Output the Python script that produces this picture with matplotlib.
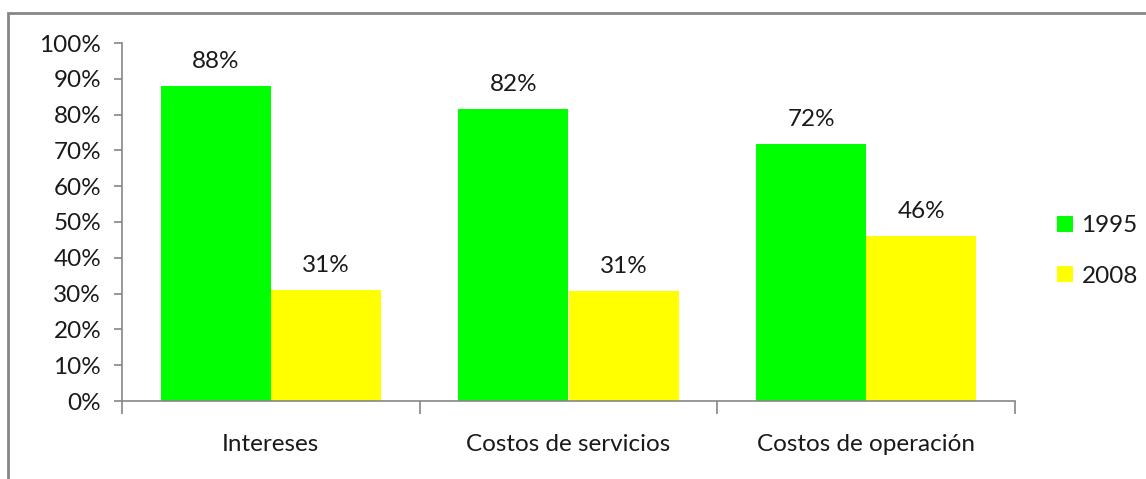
import matplotlib
matplotlib.use("Agg")
import matplotlib.pyplot as plt
from matplotlib.patches import Rectangle
from matplotlib.ticker import FixedLocator
import numpy as np

categories = ["Intereses", "Costos de servicios", "Costos de operación"]
series_names = ["1995", "2008"]
values_1995 = [88, 81.6, 71.8]
values_2008 = [31, 30.7, 46]
labels_1995 = ["88%", "82%", "72%"]
labels_2008 = ["31%", "31%", "46%"]
yticks = [0, 10, 20, 30, 40, 50, 60, 70, 80, 90, 100]

plt.rcParams['font.family'] = ['Lato', 'DejaVu Sans']
FS = 17.5
W, H = 1146, 479
fig = plt.figure(figsize=(W/100, H/100), dpi=100)

# chart border
fig.patches.append(Rectangle((8/W, -0.1), 1.2, 1 - 13/H + 0.1, transform=fig.transFigure,
                             fill=False, edgecolor='#868686', linewidth=2.0))

ax = fig.add_axes([122/W, 1 - 401/H, (1015-122)/W, (401-43)/H])
x = np.arange(len(categories))
bw = 0.37
axis_col = '#868686'
green = '#00FF00'
yellow = '#FFFF00'
txt_col = '#1a1a1a'
b1 = ax.bar(x - bw/2, values_1995, bw, color=green, label=series_names[0])
b2 = ax.bar(x + bw/2, values_2008, bw, color=yellow, label=series_names[1])
for bars, labs in ((b1, labels_1995), (b2, labels_2008)):
    for rect, lab in zip(bars, labs):
        ax.annotate(lab, (rect.get_x() + rect.get_width()/2, rect.get_height()),
                    xytext=(0, 10), textcoords='offset points', ha='center', va='bottom',
                    fontsize=FS, color=txt_col)

ax.set_xlim(-0.5, len(categories) - 0.5)
ax.set_ylim(0, 100)
ax.set_yticks(yticks)
ax.set_yticklabels([f"{v}%" for v in yticks], fontsize=FS, color=txt_col)
ax.tick_params(axis='y', length=6, color=axis_col, width=1.2, pad=9)

ax.xaxis.set_major_locator(FixedLocator(x))
ax.set_xticklabels(categories, fontsize=FS, color=txt_col)
ax.tick_params(axis='x', which='major', length=0, pad=24)
ax.xaxis.set_minor_locator(FixedLocator(np.arange(len(categories) + 1) - 0.5))
ax.tick_params(axis='x', which='minor', length=9, color=axis_col, width=1.2)

for s in ['top', 'right']:
    ax.spines[s].set_visible(False)
for s in ['left', 'bottom']:
    ax.spines[s].set_color(axis_col)
    ax.spines[s].set_linewidth(1.2)

leg = fig.legend(handles=[b1, b2], labels=series_names, loc='center left',
                 bbox_to_anchor=(1045/W, 1 - 251/H), frameon=False, fontsize=FS,
                 handlelength=0.65, handleheight=0.65, handletextpad=0.35, labelspacing=1.2,
                 borderpad=0)
for t in leg.get_texts():
    t.set_color(txt_col)

fig.savefig("out.png", dpi=100)
